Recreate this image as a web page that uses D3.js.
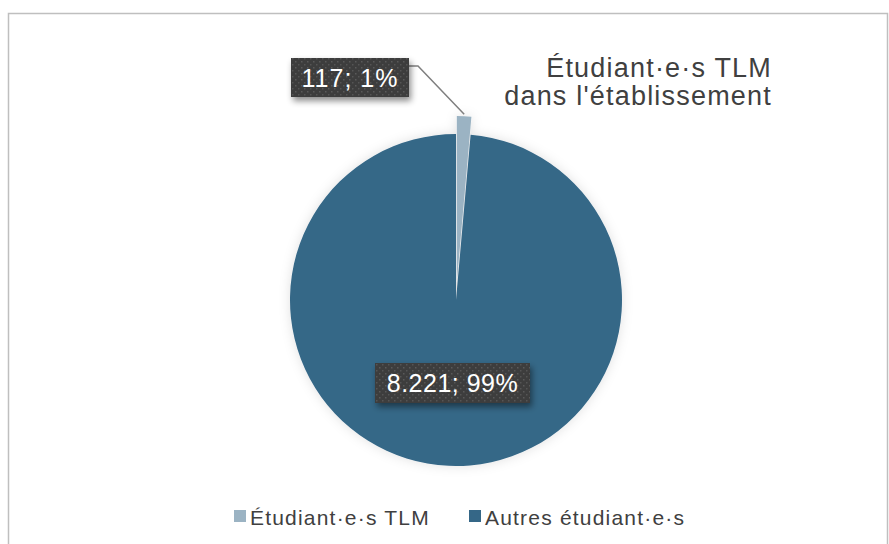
<!DOCTYPE html>
<html>
<head>
<meta charset="utf-8">
<script src="https://cdn.jsdelivr.net/npm/d3@7"></script>
<style>
  body { margin: 0; background: #fff; }
  text { font-family: "Liberation Sans", Arial, sans-serif; }
</style>
</head>
<body>
<svg width="889" height="544"></svg>
<script>
const categories = ["Étudiant·e·s TLM", "Autres étudiant·e·s"];
const values = [117, 8221];
const valueLabels = ["117", "8.221"];
const colors = ["#9bb3c3", "#356787"];
const titleLines = ["Étudiant·e·s TLM", "dans l'établissement"];

const svg = d3.select("svg");
const width = +svg.attr("width");
const height = +svg.attr("height");

const defs = svg.append("defs");
const pat = defs.append("pattern")
  .attr("id", "dots")
  .attr("width", 6).attr("height", 6)
  .attr("patternUnits", "userSpaceOnUse");
pat.append("rect").attr("width", 6).attr("height", 6).attr("fill", "#3d3d3d");
pat.append("rect").attr("x", 1).attr("y", 1).attr("width", 1.5).attr("height", 1.5).attr("fill", "#5a5a5a");
pat.append("rect").attr("x", 4).attr("y", 4).attr("width", 1.5).attr("height", 1.5).attr("fill", "#555");

const shadow = defs.append("filter").attr("id", "shadow")
  .attr("x", "-20%").attr("y", "-30%").attr("width", "140%").attr("height", "170%");
shadow.append("feDropShadow")
  .attr("dx", 2).attr("dy", 4).attr("stdDeviation", 3)
  .attr("flood-color", "#000").attr("flood-opacity", 0.45);

const pieShadow = defs.append("filter").attr("id", "pieShadow")
  .attr("x", "-20%").attr("y", "-20%").attr("width", "140%").attr("height", "140%");
pieShadow.append("feDropShadow")
  .attr("dx", 0).attr("dy", 0).attr("stdDeviation", 6)
  .attr("flood-color", "#000").attr("flood-opacity", 0.12);

// chart frame
svg.append("rect")
  .attr("x", 8.5).attr("y", 13.5)
  .attr("width", 879).attr("height", 540)
  .attr("fill", "#fff")
  .attr("stroke", "#bfbfbf").attr("stroke-width", 1.5);

const cx = 456, cy = 300, radius = 166, explode = 18;
const total = d3.sum(values);

const pie = d3.pie().sort(null).value(d => d)(values);
const arc = d3.arc().innerRadius(0).outerRadius(radius);

const g = svg.append("g")
  .attr("transform", `translate(${cx},${cy})`)
  .attr("filter", "url(#pieShadow)");

const offset = d => {
  if (d.index !== 0) return [0, 0];
  const a = (d.startAngle + d.endAngle) / 2;
  return [Math.sin(a) * explode, -Math.cos(a) * explode];
};

g.selectAll("path")
  .data(pie)
  .enter()
  .append("path")
  .attr("d", arc)
  .attr("fill", (d, i) => colors[i])
  .attr("transform", d => `translate(${offset(d)})`);

const fmtPct = v => Math.round(v / total * 100) + "%";

// label boxes
const labelPos = [
  { x: 291, y: 58, w: 118, h: 39, ls: 1 },
  { x: 375, y: 363, w: 155, h: 40, ls: 0.5 }
];

// leader line for small slice
const s0 = pie[0];
const a0 = (s0.startAngle + s0.endAngle) / 2;
const o0 = offset(s0);
const tip = [cx + o0[0] + Math.sin(a0) * (radius + 2), cy + o0[1] - Math.cos(a0) * (radius + 2)];
svg.append("polyline")
  .attr("points", [[labelPos[0].x + labelPos[0].w, 66], [418, 66], tip].map(p => p.join(",")).join(" "))
  .attr("fill", "none")
  .attr("stroke", "#7f7f7f")
  .attr("stroke-width", 1.5);

pie.forEach((d, i) => {
  const p = labelPos[i];
  const lg = svg.append("g");
  lg.append("rect")
    .attr("x", p.x).attr("y", p.y)
    .attr("width", p.w).attr("height", p.h)
    .attr("fill", "url(#dots)")
    .attr("filter", "url(#shadow)");
  lg.append("text")
    .attr("x", p.x + p.w / 2)
    .attr("y", p.y + p.h / 2 + 9)
    .attr("text-anchor", "middle")
    .attr("fill", "#fff")
    .attr("font-size", 25)
    .attr("letter-spacing", p.ls)
    .text(`${valueLabels[i]}; ${fmtPct(values[i])}`);
});

// title
svg.append("text")
  .attr("text-anchor", "end")
  .attr("fill", "#404040")
  .attr("font-size", 27)
  .attr("letter-spacing", 1.2)
  .selectAll("tspan")
  .data(titleLines)
  .enter()
  .append("tspan")
  .attr("x", 772)
  .attr("y", (d, i) => 77 + i * 28)
  .text(d => d);

// legend
const legendX = [234, 469];
const legend = svg.append("g");
categories.forEach((c, i) => {
  legend.append("rect")
    .attr("x", legendX[i]).attr("y", 510)
    .attr("width", 12).attr("height", 12)
    .attr("fill", colors[i]);
  legend.append("text")
    .attr("x", legendX[i] + 16).attr("y", 525)
    .attr("fill", "#404040")
    .attr("font-size", 21)
    .attr("letter-spacing", 1.2)
    .text(c);
});
</script>
</body>
</html>
